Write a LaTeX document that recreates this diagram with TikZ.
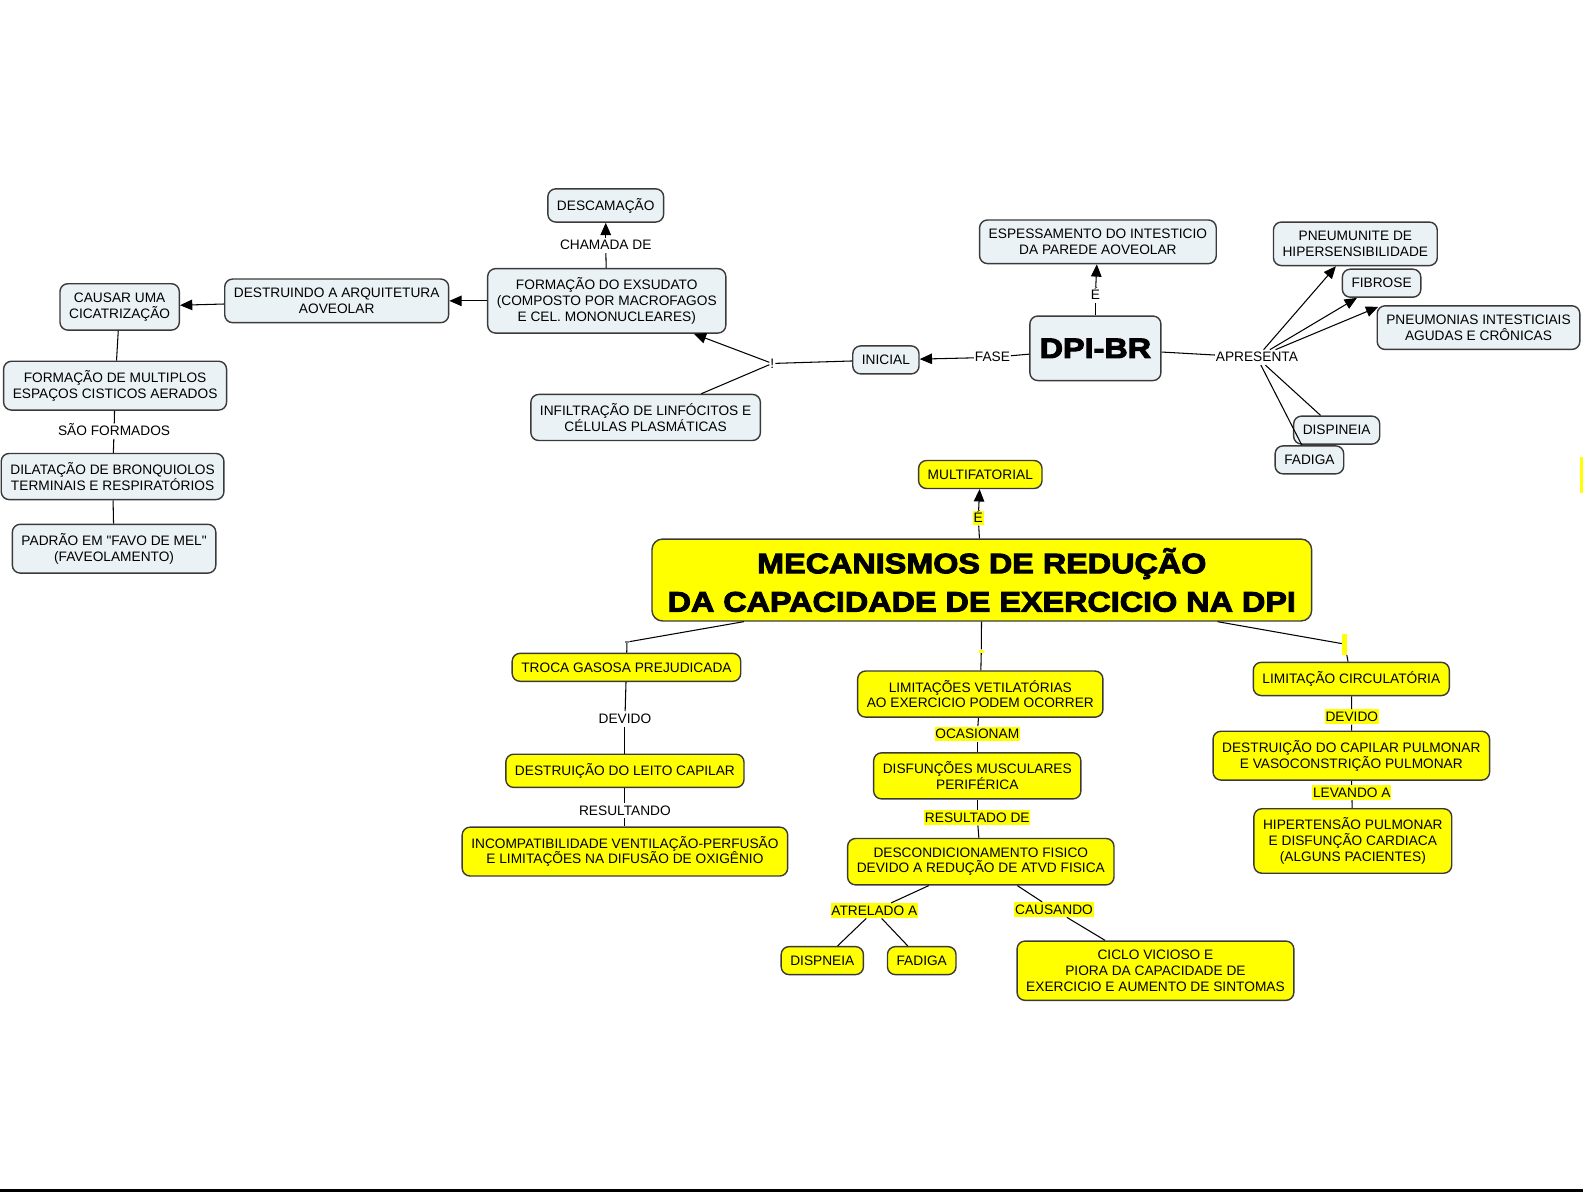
\documentclass[tikz,border=0pt]{standalone}
\usepackage{fontspec}
\setmainfont{Liberation Sans}
\newfontfamily\heavyfont[FakeBold=3.5,FakeStretch=1.15]{Liberation Sans}
\usepackage{xcolor}
\usepackage{tikz}
\usetikzlibrary{arrows.meta}
\definecolor{palegray}{HTML}{EBF2F5}
\definecolor{mapyellow}{HTML}{FFFF00}
\definecolor{rimgray}{HTML}{3A3A3A}

\begin{document}
\begin{tikzpicture}[x=0.020192cm, y=-0.020192cm, >={Triangle[length=7pt,width=6pt]},
    font=\fontsize{7.8}{8.9}\selectfont,
    box/.style={draw=rimgray, line width=0.8pt, rounded corners=4.5pt, align=center, inner xsep=5.2pt, inner ysep=5.2pt},
    gbox/.style={box, fill=palegray},
    ybox/.style={box, fill=mapyellow},
    tag/.style={inner sep=0.4pt, text height=6.4pt, text depth=1.2pt},
    ytag/.style={tag, fill=mapyellow},
    gap/.style={inner sep=0pt, fill=mapyellow},
    wire/.style={line width=0.6pt}]

    \useasboundingbox (0,0) rectangle (1568,1180);
    \draw[line width=1.4pt] (0,1179) -- (1568,1179);
    \fill[mapyellow] (1565.5,453) rectangle (1568,488);

    \node[gbox] (desc) at (600,203.5) {DESCAMAÇÃO};
    \node[gbox] (exs) at (601,298) {FORMAÇÃO DO EXSUDATO\\(COMPOSTO POR MACROFAGOS\\E CEL. MONONUCLEARES)};
    \node[gbox] (destr) at (333.5,298) {DESTRUINDO A ARQUITETURA\\AOVEOLAR};
    \node[gbox] (causar) at (118.5,304) {CAUSAR UMA\\CICATRIZAÇÃO};
    \node[gbox] (cistic) at (114,382) {FORMAÇÃO DE MULTIPLOS\\ESPAÇOS CISTICOS AERADOS};
    \node[gbox] (dilat) at (111.5,472) {DILATAÇÃO DE BRONQUIOLOS\\TERMINAIS E RESPIRATÓRIOS};
    \node[gbox] (padrao) at (113,543.5) {PADRÃO EM \textquotedbl FAVO DE MEL\textquotedbl\\(FAVEOLAMENTO)};
    \node[gbox] (infil) at (639.5,413.5) {INFILTRAÇÃO DE LINFÓCITOS E\\CÉLULAS PLASMÁTICAS};
    \node[gbox] (inicial) at (877.5,356.5) {INICIAL};
    \node[gbox, minimum width=2.62cm, minimum height=1.29cm, font=\heavyfont\bfseries\fontsize{16}{18}\selectfont] (dpi) at (1085,345) {DPI-BR};
    \node[gbox] (esp) at (1087.5,239.5) {ESPESSAMENTO DO INTESTICIO\\DA PAREDE AOVEOLAR};
    \node[gbox] (pneu) at (1342.5,241.5) {PNEUMUNITE DE\\HIPERSENSIBILIDADE};
    \node[gbox] (fib) at (1368.5,280.5) {FIBROSE};
    \node[gbox] (pneumo) at (1464.5,324.5) {PNEUMONIAS INTESTICIAIS\\AGUDAS E CRÔNICAS};
    \node[gbox] (disp) at (1324,426) {DISPINEIA};
    \node[gbox] (fad) at (1297,455.5) {FADIGA};

    \node[tag] (chamada) at (600,243) {CHAMADA DE};
    \node[tag] (saoform) at (113,427) {SÃO FORMADOS};
    \node[tag] (excl) at (765,360) {!};
    \node[tag] (fase) at (983,354) {FASE};
    \node[tag] (e1) at (1085,292) {É};
    \node[tag] (apres) at (1245,354) {APRESENTA};

    \node[ybox] (multif) at (971,470) {MULTIFATORIAL};
    \node[ybox, minimum width=13.19cm, minimum height=1.6cm, rounded corners=6pt, font=\heavyfont\bfseries\fontsize{16}{21.8}\selectfont] (title) at (972.5,574.5) {MECANISMOS DE REDUÇÃO\\DA CAPACIDADE DE EXERCICIO NA DPI};
    \node[ybox] (troca) at (620.5,661) {TROCA GASOSA PREJUDICADA};
    \node[ybox] (leito) at (619,763.5) {DESTRUIÇÃO DO LEITO CAPILAR};
    \node[ybox] (incomp) at (619,843.5) {INCOMPATIBILIDADE VENTILAÇÃO-PERFUSÃO\\E LIMITAÇÕES NA DIFUSÃO DE OXIGÊNIO};
    \node[ybox] (limvent) at (971,687.5) {LIMITAÇÕES VETILATÓRIAS\\AO EXERCICIO PODEM OCORRER};
    \node[ybox] (disf) at (968,768.5) {DISFUNÇÕES MUSCULARES\\PERIFÉRICA};
    \node[ybox] (descond) at (971.5,853.5) {DESCONDICIONAMENTO FISICO\\DEVIDO A REDUÇÃO DE ATVD FISICA};
    \node[ybox] (dispn) at (814.5,951.5) {DISPNEIA};
    \node[ybox] (fadg) at (913,951.5) {FADIGA};
    \node[ybox] (ciclo) at (1144.5,961.5) {CICLO VICIOSO E\\PIORA DA CAPACIDADE DE\\EXERCICIO E AUMENTO DE SINTOMAS};
    \node[ybox] (limcirc) at (1338.5,672.5) {LIMITAÇÃO CIRCULATÓRIA};
    \node[ybox] (capil) at (1338.5,748.5) {DESTRUIÇÃO DO CAPILAR PULMONAR\\E VASOCONSTRIÇÃO PULMONAR};
    \node[ybox] (hipert) at (1340,833) {HIPERTENSÃO PULMONAR\\E DISFUNÇÃO CARDIACA\\(ALGUNS PACIENTES)};

    \node[ytag] (e2) at (969,513) {É};
    \node[gap, fill=gray, minimum width=2.5pt, minimum height=0.8pt] (gap1) at (621,636) {};
    \node[gap, minimum width=2.8pt, minimum height=1.7pt] (gap2) at (972,645) {};
    \node[gap, minimum width=3pt, minimum height=12pt] (gap3) at (1332,638) {};
    \node[tag] (devido1) at (619,712) {DEVIDO};
    \node[tag] (result) at (619,803) {RESULTANDO};
    \node[ytag] (ocas) at (968,727) {OCASIONAM};
    \node[ytag] (resde) at (968,810) {RESULTADO DE};
    \node[ytag] (atrel) at (866,902) {ATRELADO A};
    \node[ytag] (causa) at (1044,901) {CAUSANDO};
    \node[ytag] (devido2) at (1339,710) {DEVIDO};
    \node[ytag] (levando) at (1339,785) {LEVANDO A};

    \path[wire] (exs) edge (chamada)
          (chamada) edge[->] (desc)
          (exs) edge[->] (destr)
          (destr) edge[->] (causar)
          (causar) edge (cistic)
          (cistic) edge (saoform)
          (saoform) edge (dilat)
          (dilat) edge (padrao)
          (dpi) edge (fase)
          (fase) edge[->] (inicial)
          (inicial) edge (excl)
          (excl) edge[->] (exs)
          (excl) edge (infil)
          (dpi) edge (e1)
          (e1) edge[->] (esp)
          (dpi) edge (apres)
          (apres) edge[->] (pneu)
          (apres) edge[->] (fib)
          (apres) edge[->] ([xshift=1pt,yshift=-1pt]pneumo.north west)
          (apres) edge (disp)
          (apres) edge (fad);

    \path[wire] (title) edge (e2)
          (e2) edge[->] (multif)
          (title) edge (gap1)
          (gap1) edge (troca)
          (troca) edge (devido1)
          (devido1) edge (leito)
          (leito) edge (result)
          (result) edge (incomp)
          (title) edge (gap2)
          (gap2) edge (limvent)
          (limvent) edge (ocas)
          (ocas) edge (disf)
          (disf) edge (resde)
          (resde) edge (descond)
          (descond) edge (atrel)
          (atrel) edge (dispn)
          (atrel) edge (fadg)
          (descond) edge (causa)
          (causa) edge (ciclo)
          (title) edge (gap3)
          (gap3) edge (limcirc)
          (limcirc) edge (devido2)
          (devido2) edge (capil)
          (capil) edge (levando)
          (levando) edge (hipert);
\end{tikzpicture}
\end{document}
